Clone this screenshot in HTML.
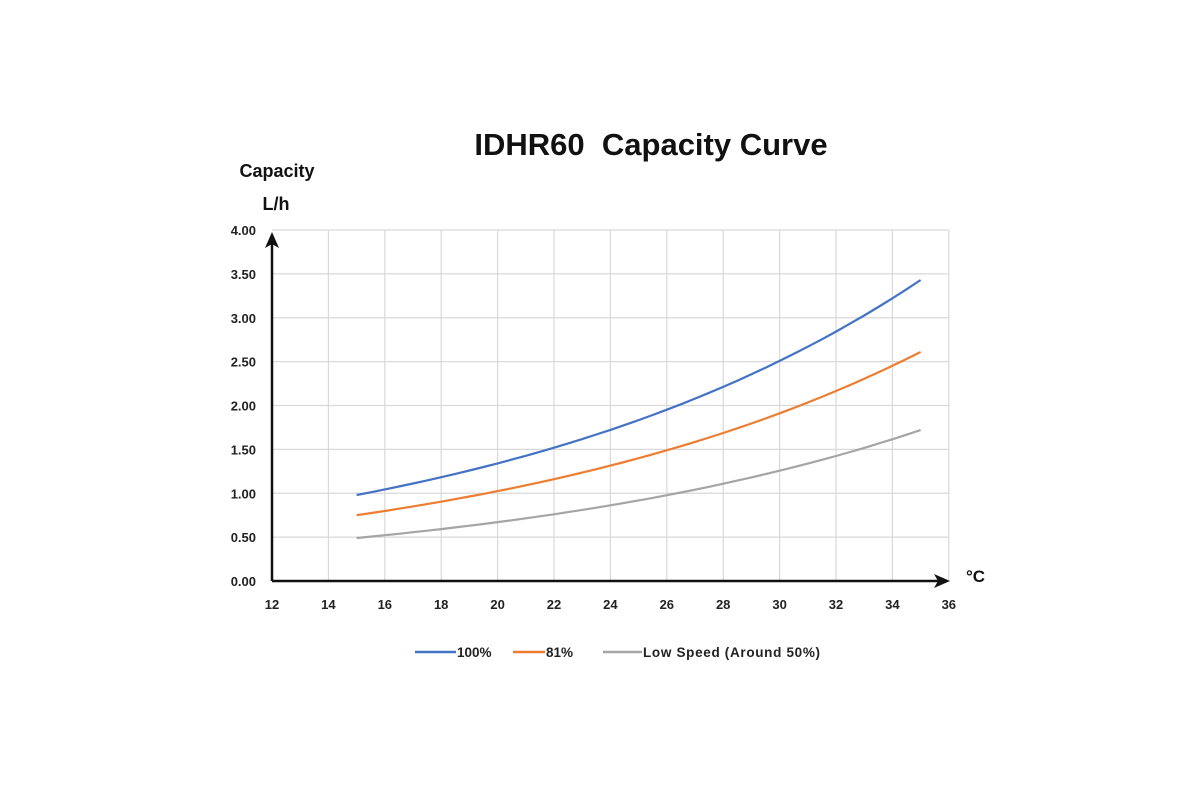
<!DOCTYPE html>
<html><head><meta charset="utf-8"><style>
html,body{margin:0;padding:0;background:#fff;}
svg{display:block;font-family:"Liberation Sans",sans-serif;}
</style></head><body>
<svg id="c" width="1200" height="800" viewBox="0 0 1200 800" xmlns="http://www.w3.org/2000/svg">
<text x="651" y="155" font-size="31" font-weight="bold" text-anchor="middle" fill="#111" xml:space="preserve" style="white-space:pre">IDHR60  Capacity Curve</text>
<text x="277" y="177" font-size="18" font-weight="bold" text-anchor="middle" fill="#111">Capacity</text>
<text x="276" y="210" font-size="18" font-weight="bold" text-anchor="middle" fill="#111">L/h</text>
<g id="grid" stroke="#d9d9d9" stroke-width="1.2"></g>
<g id="lab" font-size="13" font-weight="bold" fill="#222"></g>
<g id="ser" fill="none" stroke-width="2.2"></g>
<line x1="272" y1="581" x2="272" y2="240" stroke="#111" stroke-width="2.5"/>
<polygon points="272,232 265,248 272,244 279,248" fill="#111"/>
<line x1="272" y1="581" x2="940" y2="581" stroke="#111" stroke-width="2.5"/>
<polygon points="950,581 934,574 938,581 934,588" fill="#111"/>
<text x="966" y="582" font-size="17" font-weight="bold" fill="#111">°C</text>
<g font-size="13.5" font-weight="bold" fill="#222">
<line x1="415" y1="652" x2="456" y2="652" stroke="#4472c4" stroke-width="2.5"/>
<text x="457" y="657">100%</text>
<line x1="513" y1="652" x2="545" y2="652" stroke="#ed7d31" stroke-width="2.5"/>
<text x="546" y="657">81%</text>
<line x1="603" y1="652" x2="642" y2="652" stroke="#a5a5a5" stroke-width="2.5"/>
<text x="643" y="657" textLength="177">Low Speed (Around 50%)</text>
</g>
</svg>
<script>
const NS="http://www.w3.org/2000/svg";
const X=t=>272+(t-12)*28.2, Y=v=>581-v*87.75;
const g=document.getElementById('grid'),l=document.getElementById('lab'),s=document.getElementById('ser');
function el(p,tag,a,txt){const e=document.createElementNS(NS,tag);for(const k in a)e.setAttribute(k,a[k]);if(txt)e.textContent=txt;p.appendChild(e);}
for(let t=14;t<=36;t+=2)el(g,'line',{x1:X(t),x2:X(t),y1:Y(4),y2:Y(0)});
for(let v=0.5;v<=4.001;v+=0.5)el(g,'line',{x1:X(12),x2:X(36),y1:Y(v),y2:Y(v)});
for(let t=12;t<=36;t+=2)el(l,'text',{x:X(t),y:609,'text-anchor':'middle'},String(t));
for(let v=0;v<=4.001;v+=0.5)el(l,'text',{x:256,y:Y(v)+5,'text-anchor':'end'},v.toFixed(2));
[[0.98,3.43,'#4472c4'],[0.75,2.61,'#ed7d31'],[0.49,1.72,'#a5a5a5']].forEach(([a,b,c])=>{
 const k=Math.log(b/a)/20;let p=[];
 for(let t=15;t<=35.001;t+=0.5)p.push(X(t).toFixed(1)+','+Y(a*Math.exp(k*(t-15))).toFixed(1));
 el(s,'polyline',{points:p.join(' '),stroke:c});
});
</script>
</body></html>
